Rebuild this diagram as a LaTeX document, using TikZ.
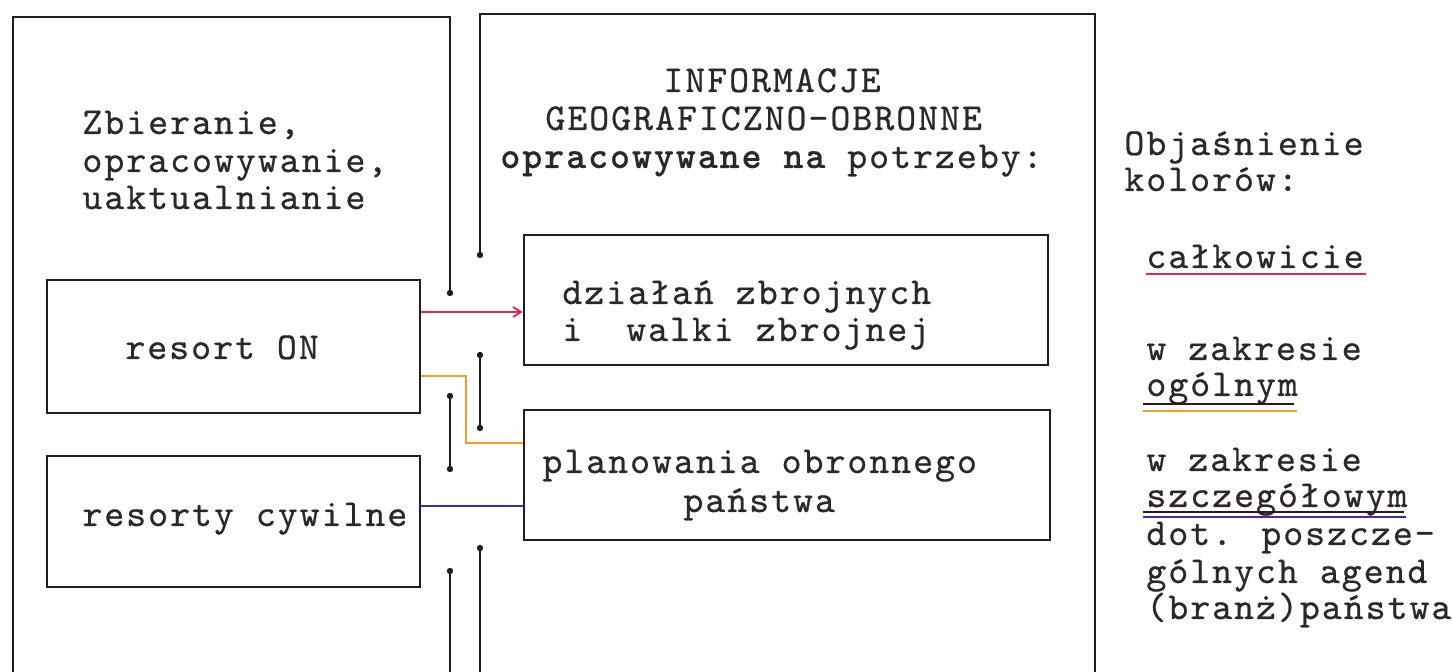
\documentclass[tikz,border=0pt]{standalone}
\usepackage{fontspec}
\usetikzlibrary{arrows.meta,calc}
\newfontfamily\tw{lmmono10-regular}[Extension=.otf,FakeBold=0.6,BoldFont=lmmonolt10-bold,BoldFeatures={FakeBold=0.3},LetterSpace=5.2]
\definecolor{ink}{RGB}{35,28,28}
\definecolor{txtc}{RGB}{45,40,40}
\definecolor{cred}{RGB}{222,40,80}
\definecolor{corange}{RGB}{245,155,40}
\definecolor{cblue}{RGB}{70,40,170}
\definecolor{dark}{RGB}{50,22,28}
\begin{document}
\begin{tikzpicture}[x=0.5pt,y=-0.5pt,
  txt/.style={anchor=base west, inner sep=0pt, font=\tw\fontsize{19}{21}\selectfont, text=txtc},
  frame/.style={draw=ink, line width=1.3pt, line cap=round, line join=miter},
  box/.style={draw=ink, line width=1.3pt, rectangle, inner sep=0pt},
  enddot/.style={fill=ink},
  conn/.style={line width=0.9pt},
  uline/.style={line width=1.1pt}]
\useasboundingbox[fill=white] (0,0) rectangle (1452,672);

% open frames
\draw[frame] (450,293) -- (450,17) -- (13,17) -- (13,672);
\draw[frame] (480,255) -- (480,14) -- (1095,14) -- (1095,672);
\draw[frame] (450,396) -- (450,469);
\draw[frame] (450,571) -- (450,672);
\draw[frame] (480,355) -- (480,428);
\draw[frame] (480,548) -- (480,672);
\foreach \p in {(450,293),(480,255),(450,396),(450,469),(450,571),(480,355),(480,428),(480,548)}
  \fill[enddot] \p circle[radius=1.6pt];

% boxes
\node[box, minimum width=186.5pt, minimum height=66.5pt] (ron) at (233.5,346.5) {};
\node[box, minimum width=186.5pt, minimum height=65.5pt] (cyw) at (233.5,521.5) {};
\node[box, minimum width=262pt, minimum height=65pt] (dz) at (786,300) {};
\node[box, minimum width=263pt, minimum height=65pt] (pl) at (787,475) {};

% texts left
\node[txt] (z1) at (82,134) {Zbieranie,};
\node[txt] (z2) at (82,172) {opracowywanie,};
\node[txt] (z3) at (82,209) {uaktualnianie};
\node[txt] (tron) at (125,359) {resort ON};
\node[txt] (tcyw) at (82,526) {resorty cywilne};

% texts right
\node[txt] (i1) at (663,92) {INFORMACJE};
\node[txt] (i2) at (545,130) {GEOGRAFICZNO-OBRONNE};
\node[txt] (i3) at (500,168) {{\bfseries opracowywane na} potrzeby:};
\node[txt] (tdz1) at (562,304) {działań zbrojnych};
\node[txt] (tdz2) at (562,341) {i\ \ walki zbrojnej};
\node[txt] (tpl1) at (542,473) {planowania obronnego};
\node[txt] (tpl2) at (683,512) {państwa};

% connectors
\coordinate (r1) at ([yshift=17.25pt]ron.east);
\draw[conn, draw=cred, -{Straight Barb[length=4pt,width=5pt]}] (r1) -- (r1 -| dz.west);
\coordinate (o1) at ([yshift=-14.75pt]ron.east);
\coordinate (o2) at ([yshift=16pt]pl.west);
\draw[conn, draw=corange] (o1) -- ++(45,0) |- (o2);
\coordinate (b1) at ([yshift=7.75pt]cyw.east);
\draw[conn, draw=cblue] (b1) -- (b1 -| pl.west);

% legend
\node[txt] (l1) at (1124,155) {Objaśnienie};
\node[txt] (l2) at (1124,191) {kolorów:};
\node[txt] (l3) at (1146,268) {całkowicie};
\node[txt] (l4) at (1146,360) {w zakresie};
\node[txt] (l5) at (1146,396) {ogólnym};
\node[txt] (l6) at (1146,471) {w zakresie};
\node[txt] (l7) at (1146,507) {szczegółowym};
\node[txt] (l8) at (1146,545) {dot. poszcze-};
\node[txt] (l9) at (1146,583) {gólnych agend};
\node[txt] (l10) at (1146,619) {(branż)państwa};

\draw[uline, draw=cred] ($(l3.base west)+(0,6)$) -- ($(l3.base east)+(2,6)$);
\draw[uline, draw=dark] ($(l5.base west)+(-3,8)$) -- ($(l5.base east)+(-4,8)$);
\draw[uline, draw=corange] ($(l5.base west)+(-3,15)$) -- ($(l5.base east)+(-1,15)$);
\draw[uline, draw=dark] ($(l7.base west)+(-3,5)$) -- ($(l7.base east)+(-4,5)$);
\draw[uline, draw=cblue] ($(l7.base west)+(-3,10)$) -- ($(l7.base east)+(-2,10)$);
\end{tikzpicture}
\end{document}
